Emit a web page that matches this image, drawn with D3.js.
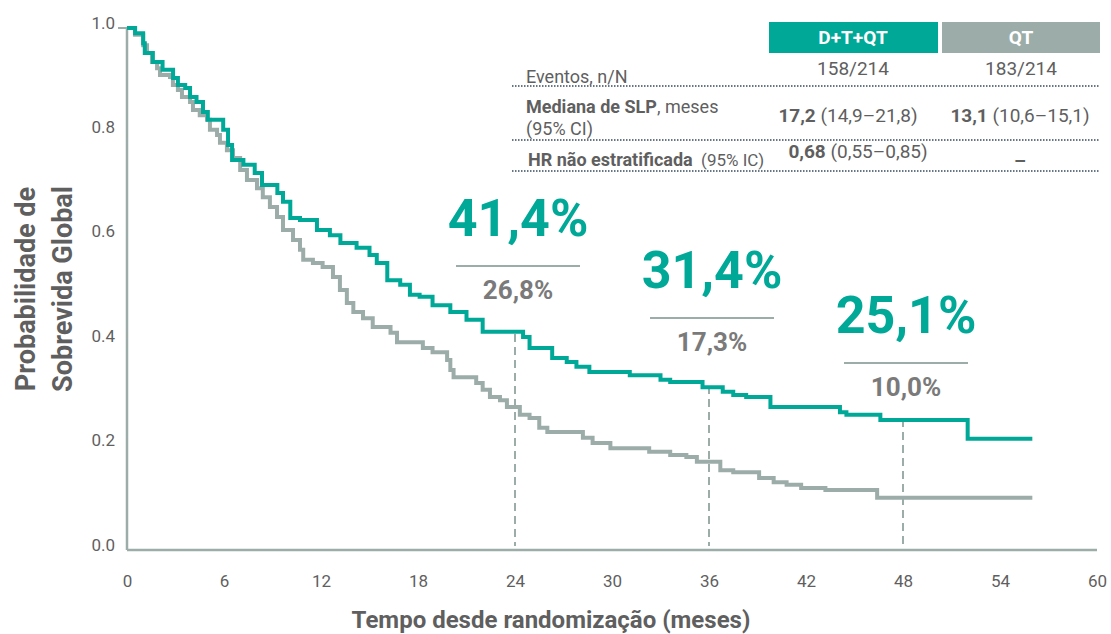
<!DOCTYPE html>
<html>
<head>
<meta charset="utf-8">
<script src="https://cdn.jsdelivr.net/npm/d3@7"></script>
<style>
  body { margin: 0; background: #fff; }
  text { font-family: Roboto, "Noto Sans", sans-serif; }
</style>
</head>
<body>
<div id="chart"></div>
<script>
// D+T+QT arm (teal) - step points
var dtqtTime = [0, 0.5, 1.0, 1.1, 1.6, 2.2, 2.85, 3.15, 3.6, 3.9, 4.3, 4.7, 5.0, 5.95, 6.25, 6.5, 7.2, 7.9, 8.35, 9.3, 9.65, 10.1, 10.7, 11.75, 12.55, 13.2, 14.2, 15.0, 15.45, 16.1, 16.9, 17.5, 18.1, 18.9, 20.0, 21.0, 22.0, 24.5, 24.9, 26.3, 27.2, 27.8, 28.6, 31.1, 33.0, 33.6, 35.6, 36.85, 37.5, 38.3, 39.8, 44.1, 44.5, 46.6, 52.0, 56.0];
var dtqtSurv = [1.0, 0.990, 0.971, 0.952, 0.935, 0.920, 0.904, 0.891, 0.885, 0.868, 0.858, 0.839, 0.824, 0.805, 0.776, 0.747, 0.738, 0.722, 0.699, 0.684, 0.667, 0.636, 0.632, 0.613, 0.603, 0.588, 0.579, 0.565, 0.550, 0.517, 0.508, 0.489, 0.485, 0.469, 0.456, 0.441, 0.418, 0.408, 0.387, 0.368, 0.360, 0.351, 0.341, 0.335, 0.326, 0.322, 0.312, 0.303, 0.297, 0.293, 0.274, 0.264, 0.259, 0.249, 0.213, 0.213];

// QT arm (grey)
var qtTime = [0, 0.5, 1.0, 1.24, 1.55, 1.86, 2.04, 2.66, 2.84, 3.15, 3.4, 3.9, 4.08, 4.5, 4.95, 5.13, 5.57, 5.75, 6.18, 6.56, 7.0, 7.42, 8.04, 8.4, 8.84, 9.28, 9.65, 10.27, 10.7, 10.9, 11.5, 12.1, 12.74, 13.17, 13.6, 14.0, 14.6, 15.2, 16.3, 16.7, 18.3, 18.9, 19.8, 20.0, 20.2, 21.6, 22.0, 22.45, 23.07, 23.5, 24.3, 24.9, 25.5, 26.0, 28.2, 28.8, 29.9, 32.3, 33.6, 34.6, 35.25, 36.7, 37.5, 39.1, 40.0, 40.8, 41.7, 43.2, 46.4, 56.0];
var qtSurv = [1.0, 0.987, 0.967, 0.952, 0.935, 0.923, 0.910, 0.906, 0.891, 0.881, 0.868, 0.858, 0.843, 0.833, 0.824, 0.805, 0.795, 0.780, 0.766, 0.751, 0.728, 0.709, 0.693, 0.676, 0.657, 0.638, 0.613, 0.594, 0.575, 0.556, 0.550, 0.542, 0.523, 0.498, 0.473, 0.456, 0.444, 0.427, 0.416, 0.398, 0.387, 0.379, 0.364, 0.345, 0.331, 0.320, 0.307, 0.293, 0.287, 0.274, 0.259, 0.253, 0.234, 0.226, 0.215, 0.205, 0.195, 0.188, 0.182, 0.178, 0.169, 0.153, 0.149, 0.138, 0.130, 0.125, 0.119, 0.115, 0.100, 0.100];

// landmark annotations
var landmarkMonths = [24, 36, 48];
var landmarkDtqt = ["41,4%", "31,4%", "25,1%"];
var landmarkQt = ["26,8%", "17,3%", "10,0%"];
var landmarkDtqtVal = [0.414, 0.314, 0.251];

var xTicks = [0, 6, 12, 18, 24, 30, 36, 42, 48, 54, 60];
var yTicks = [0, 0.2, 0.4, 0.6, 0.8, 1.0];

// summary table
var armNames = ["D+T+QT", "QT"];
var eventos = ["158/214", "183/214"];
var medianaBold = ["17,2", "13,1"];
var medianaCI = [" (14,9\u201321,8)", " (10,6\u201315,1)"];

var teal = "#00a898",
    grey = "#9cada9",
    axisCol = "#9cada9",
    txt = "#5f5f5f";

var width = 1111, height = 634;

var svg = d3.select("#chart").append("svg")
    .attr("width", width)
    .attr("height", height);

var x = d3.scaleLinear().domain([0, 60]).range([127, 1097]);
var y = d3.scaleLinear().domain([0, 1]).range([550, 28]);

// axes
var xAxis = d3.axisBottom(x).tickValues(xTicks).tickSize(0).tickPadding(25);
var yAxis = d3.axisLeft(y).tickValues(yTicks).tickSize(0).tickPadding(12)
    .tickFormat(d3.format(".1f"));

var gx = svg.append("g")
    .attr("transform", "translate(0," + y(0) + ")")
    .call(xAxis);
gx.select(".domain").remove();
gx.selectAll("text").style("font-size", "17px").attr("fill", txt);

var gy = svg.append("g")
    .attr("transform", "translate(" + x(0) + ",0)")
    .call(yAxis);
gy.select(".domain").remove();
gy.selectAll("text").style("font-size", "17px").attr("fill", txt).attr("dy", "0em");

// axis lines
svg.append("line")
    .attr("x1", x(0)).attr("x2", x(60))
    .attr("y1", y(0)).attr("y2", y(0))
    .attr("stroke", axisCol).attr("stroke-width", 2.5);
svg.append("line")
    .attr("x1", x(0)).attr("x2", x(0))
    .attr("y1", y(0)).attr("y2", y(1))
    .attr("stroke", axisCol).attr("stroke-width", 2.5);
svg.append("line")
    .attr("x1", x(0) - 9).attr("x2", x(0))
    .attr("y1", y(1)).attr("y2", y(1))
    .attr("stroke", axisCol).attr("stroke-width", 2);

// axis titles
svg.append("text")
    .attr("x", 551).attr("y", 628)
    .attr("text-anchor", "middle")
    .style("font-size", "24px").style("font-weight", "bold")
    .attr("fill", txt)
    .text("Tempo desde randomização (meses)");

var yt = svg.append("text")
    .attr("transform", "translate(0,289) rotate(-90)")
    .attr("text-anchor", "middle")
    .style("font-size", "27px").style("font-weight", "bold")
    .attr("fill", txt);
yt.append("tspan").attr("x", 0).attr("y", 35).text("Probabilidade de");
yt.append("tspan").attr("x", 0).attr("y", 72).text("Sobrevida Global");

// dashed landmark lines
svg.selectAll(".landmark")
    .data(landmarkMonths)
    .enter().append("line")
    .attr("class", "landmark")
    .attr("x1", function(d) { return x(d); })
    .attr("x2", function(d) { return x(d); })
    .attr("y1", function(d, i) { return y(landmarkDtqtVal[i]); })
    .attr("y2", y(0) - 4)
    .attr("stroke", axisCol)
    .attr("stroke-width", 2)
    .attr("stroke-dasharray", "8,5");

// curves
var line = d3.line()
    .x(function(d) { return x(d[0]); })
    .y(function(d) { return y(d[1]); })
    .curve(d3.curveStepAfter);

svg.append("path")
    .datum(d3.zip(qtTime, qtSurv))
    .attr("d", line)
    .attr("fill", "none")
    .attr("stroke", grey)
    .attr("stroke-width", 4);

svg.append("path")
    .datum(d3.zip(dtqtTime, dtqtSurv))
    .attr("d", line)
    .attr("fill", "none")
    .attr("stroke", teal)
    .attr("stroke-width", 4);

// landmark labels
var labelTop = [236, 288, 333];
var lab = svg.selectAll(".lab")
    .data(landmarkMonths)
    .enter().append("g")
    .attr("class", "lab")
    .attr("transform", function(d, i) { return "translate(" + (x(d) + 3) + "," + labelTop[i] + ")"; });
lab.append("text")
    .attr("text-anchor", "middle")
    .style("font-size", "52px").style("font-weight", "bold")
    .attr("fill", teal)
    .text(function(d, i) { return landmarkDtqt[i]; });
lab.append("line")
    .attr("x1", -62).attr("x2", 62)
    .attr("y1", 30).attr("y2", 30)
    .attr("stroke", grey).attr("stroke-width", 2);
lab.append("text")
    .attr("y", 63)
    .attr("text-anchor", "middle")
    .style("font-size", "26px").style("font-weight", "bold")
    .attr("fill", "#7a7a7a")
    .text(function(d, i) { return landmarkQt[i]; });

// table
var colX = [853, 1021];
var colL = [769, 942], colW = [169, 158];
svg.selectAll(".hdr")
    .data(armNames)
    .enter().append("rect")
    .attr("x", function(d, i) { return colL[i]; })
    .attr("y", 22)
    .attr("width", function(d, i) { return colW[i]; })
    .attr("height", 31)
    .attr("fill", function(d, i) { return i == 0 ? teal : grey; });
svg.selectAll(".hdrT")
    .data(armNames)
    .enter().append("text")
    .attr("x", function(d, i) { return colX[i]; })
    .attr("y", 44)
    .attr("text-anchor", "middle")
    .style("font-size", "19px").style("font-weight", "bold")
    .attr("fill", "#fff")
    .text(function(d) { return d; });

[86, 140, 171].forEach(function(yy) {
  svg.append("line")
    .attr("x1", 512).attr("x2", 1100)
    .attr("y1", yy).attr("y2", yy)
    .attr("stroke", "#34495e").attr("stroke-width", 1.5)
    .attr("stroke-dasharray", "1.5,1.5");
});

svg.append("text")
    .attr("x", 526).attr("y", 83)
    .style("font-size", "18px").attr("fill", txt)
    .text("Eventos, n/N");
svg.selectAll(".ev")
    .data(eventos)
    .enter().append("text")
    .attr("x", function(d, i) { return colX[i]; })
    .attr("y", 75)
    .attr("text-anchor", "middle")
    .style("font-size", "19px").attr("fill", txt)
    .text(function(d) { return d; });

var m1 = svg.append("text").attr("x", 526).attr("y", 113)
    .style("font-size", "18px").attr("fill", txt);
m1.append("tspan").style("font-weight", "bold").text("Mediana de SLP");
m1.append("tspan").text(", meses");
svg.append("text").attr("x", 526).attr("y", 135)
    .style("font-size", "18px").attr("fill", txt)
    .text("(95% CI)");

var medX = [848, 1020];
medianaBold.forEach(function(b, i) {
  var t = svg.append("text").attr("x", medX[i]).attr("y", 122)
      .attr("text-anchor", "middle")
      .style("font-size", "19px").attr("fill", txt);
  t.append("tspan").style("font-weight", "bold").text(b);
  t.append("tspan").text(medianaCI[i]);
});

var h1 = svg.append("text").attr("x", 528).attr("y", 166)
    .style("font-size", "18px").attr("fill", txt)
    .attr("xml:space", "preserve");
h1.append("tspan").style("font-weight", "bold").text("HR não estratificada");
h1.append("tspan").style("font-size", "17px").text("  (95% IC)");

var h2 = svg.append("text").attr("x", 858).attr("y", 158)
    .attr("text-anchor", "middle")
    .style("font-size", "19px").attr("fill", txt);
h2.append("tspan").style("font-weight", "bold").text("0,68");
h2.append("tspan").text(" (0,55\u20130,85)");

svg.append("text").attr("x", 1020).attr("y", 167)
    .attr("text-anchor", "middle")
    .style("font-size", "19px").style("font-weight", "bold").attr("fill", txt)
    .text("\u2013");
</script>
</body>
</html>
